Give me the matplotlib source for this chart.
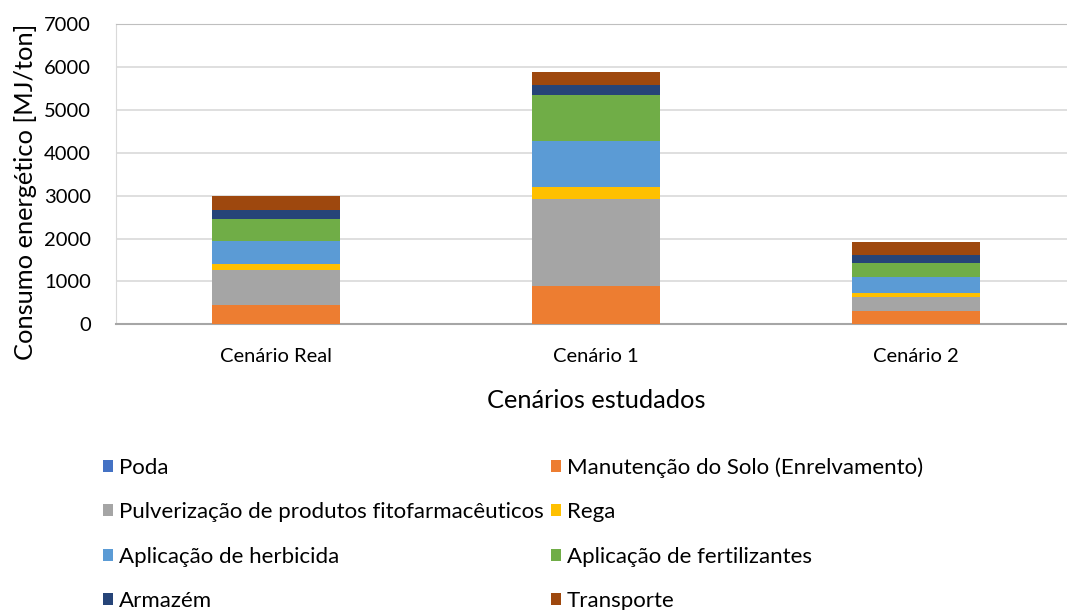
import numpy as np
import matplotlib.pyplot as plt

plt.rcParams['font.family'] = ['Lato', 'DejaVu Sans']

cenarios = ['Cenário Real', 'Cenário 1', 'Cenário 2']
series = ['Poda', 'Manutenção do Solo (Enrelvamento)',
          'Pulverização de produtos fitofarmacêuticos', 'Rega',
          'Aplicação de herbicida', 'Aplicação de fertilizantes',
          'Armazém', 'Transporte']
poda = [0, 0, 0]
manutencao = [440, 900, 300]
pulverizacao = [820, 2030, 335]
rega = [140, 260, 95]
herbicida = [535, 1090, 365]
fertilizantes = [530, 1060, 340]
armazem = [200, 240, 185]
transporte = [320, 310, 295]
valores = [poda, manutencao, pulverizacao, rega, herbicida, fertilizantes,
           armazem, transporte]
cores = ['#4472C4', '#ED7D31', '#A5A5A5', '#FFC000', '#5B9BD5', '#70AD47',
         '#264478', '#9E480E']

fig = plt.figure(figsize=(10.67, 6.10), dpi=100)
ax = fig.add_axes([116 / 1067, 1 - 324.3 / 610, 960 / 1067, 300.3 / 610])

x = np.arange(len(cenarios))
base = np.zeros(len(cenarios))
handles = []
for nome, v, c in zip(series, valores, cores):
    b = ax.bar(x, v, 0.4, bottom=base, color=c, label=nome, zorder=3)
    handles.append(b)
    base += np.array(v)

ax.set_xlim(-0.5, 2.5)
ax.set_ylim(0, 7000)
ax.set_yticks(range(0, 7001, 1000))
ax.set_xticks(x)
ax.set_xticklabels(cenarios)
ax.grid(axis='y', color='#d9d9d9', lw=1.2, zorder=0)
ax.tick_params(length=0, labelsize=14.5, colors='black')
ax.tick_params(axis='x', pad=17)
ax.tick_params(axis='y', pad=18)
ax.spines['right'].set_visible(False)
ax.spines['top'].set_color('#bfbfbf')
ax.spines['left'].set_color('#d9d9d9')
ax.spines['bottom'].set_color('#a6a6a6')
ax.spines['bottom'].set_linewidth(1.5)
ax.set_xlabel('Cenários estudados', fontsize=18.3, labelpad=17)
ax.set_ylabel('Consumo energético [MJ/ton]', fontsize=18.3)
ax.yaxis.set_label_coords(-0.082, 0.44)

# legenda em duas colunas, ordem por linhas
ordem = [0, 2, 4, 6, 1, 3, 5, 7]
fig.legend([handles[i] for i in ordem], [series[i] for i in ordem],
           ncol=2, loc='upper left', bbox_to_anchor=(92 / 1067, 1 - 446 / 610),
           frameon=False, fontsize=16, handlelength=0.45, handleheight=0.45,
           handletextpad=0.25, columnspacing=0.35, labelspacing=1.1,
           borderpad=0)

fig.savefig('out.png', dpi=100)
